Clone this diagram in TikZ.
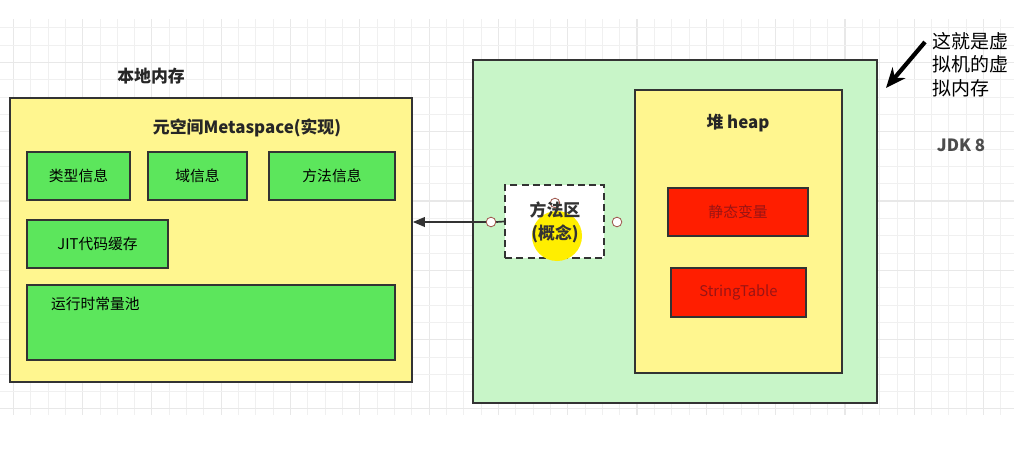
\documentclass[tikz,border=0pt]{standalone}
\usepackage{fontspec}
\setmainfont{Noto Sans CJK SC}
\usepackage{xcolor}
\usetikzlibrary{arrows.meta, calc}
\definecolor{gridminor}{HTML}{F0F0F0}
\definecolor{gridmajor}{HTML}{E8E8E8}
\definecolor{paleyellow}{HTML}{FFF68F}
\definecolor{boxgreen}{HTML}{5CE65C}
\definecolor{palegreen}{HTML}{C8F5C8}
\definecolor{boxred}{HTML}{FF1E00}
\definecolor{redtext}{HTML}{9A1414}
\definecolor{edge}{HTML}{333333}
\definecolor{pinmark}{HTML}{A05A50}
\definecolor{cursoryellow}{HTML}{FFEE00}

\begin{document}
\begin{tikzpicture}[>={Stealth[length=2mm]}, every node/.style={font=\fontsize{10.5}{12}\selectfont},
  frame/.style={draw=edge, line width=1.2pt, inner sep=0pt},
  greenbox/.style={frame, fill=boxgreen, minimum height=1.2cm},
  redbox/.style={frame, fill=boxred, text=redtext, minimum height=1.2cm},
  title/.style={font=\fontsize{12}{14}\selectfont\bfseries, text=black!85},
  pin/.style={circle, draw=pinmark, fill=white, line width=0.6pt, minimum size=0.24cm, inner sep=0pt}]
  \useasboundingbox (0,0) rectangle (25.35,-11.55);
  % grid
  \begin{scope}
    \clip (0,-0.5) rectangle (25.35,-10.35);
    \foreach \i in {0,...,59} {
      \pgfmathsetmacro{\gx}{(13.3+(\i-1)*17.33)*0.025}
      \pgfmathtruncatemacro{\maj}{mod(\i+3,4)==0}
      \ifnum\maj=1 \draw[gridmajor, line width=0.8pt] (\gx,0) -- (\gx,-11); \else \draw[gridminor, line width=0.6pt] (\gx,0) -- (\gx,-11); \fi
    }
    \foreach \j in {0,...,23} {
      \pgfmathsetmacro{\gy}{-(409-\j*17.33)*0.025}
      \pgfmathtruncatemacro{\maj}{mod(\j,4)==0}
      \ifnum\maj=1 \draw[gridmajor, line width=0.8pt] (0,\gy) -- (25.35,\gy); \else \draw[gridminor, line width=0.6pt] (0,\gy) -- (25.35,\gy); \fi
    }
  \end{scope}

  % native memory
  \node[title] (nativelabel) at (3.775,-1.9) {本地内存};
  \node[frame, fill=paleyellow, minimum width=10.05cm, minimum height=7.1cm] (native) at (5.275,-6.0) {};
  \node[title] (metalabel) at (6.175,-3.2) {元空间Metaspace(实现)};
  \node[greenbox, minimum width=2.575cm] (typeinfo) at (1.9625,-4.4) {类型信息};
  \node[greenbox, minimum width=2.475cm] (fieldinfo) at (4.9375,-4.4) {域信息};
  \node[greenbox, minimum width=3.15cm] (methodinfo) at (8.3,-4.4) {方法信息};
  \node[greenbox, minimum width=3.525cm] (jitcache) at (2.4375,-6.1) {JIT代码缓存};
  \node[greenbox, minimum width=9.2cm, minimum height=1.875cm] (constpool) at (5.275,-8.0625) {};
  \node[anchor=north west] (constlabel) at ($(constpool.north west)+(0.5,-0.2)$) {运行时常量池};

  % jvm memory
  \node[frame, fill=palegreen, minimum width=10.1cm, minimum height=8.575cm] (jvm) at (16.875,-5.7875) {};
  \node[frame, fill=paleyellow, minimum width=5.175cm, minimum height=7.075cm] (heap) at (18.4625,-5.7875) {};
  \node[title] (heaplabel) at (18.45,-3.075) {堆 heap};
  \node[redbox, minimum width=3.5cm] (staticvar) at (18.45,-5.3) {静态变量};
  \node[redbox, minimum width=3.375cm, minimum height=1.225cm] (stringtable) at (18.4625,-7.3125) {StringTable};

  % method area
  \node[draw=edge, dashed, dash pattern=on 5pt off 3pt, line width=1.2pt, fill=white, minimum width=2.475cm, minimum height=1.825cm] (area) at (13.8625,-5.5375) {};
  \node[pin] (pinbottom) at (13.875,-6.0) {};
  \fill[cursoryellow] (13.925,-5.9) circle (0.625);
  \node[pin] (pinleft) at (12.275,-5.55) {};
  \node[pin] (pinright) at (15.425,-5.55) {};
  \node[pin] (pintop) at (13.875,-5.075) {};
  \node[align=center, font=\fontsize{12}{16.5}\selectfont\bfseries, text=black!80] (arealabel) at (13.875,-5.55) {方法区\\(概念)};
  \draw[edge, line width=1.2pt, -{Triangle[length=3mm, width=2.4mm]}] (pinleft.west) -- (pinleft.west -| native.east);
  \draw[edge, line width=1.2pt] (area.west) -- (pinleft.east);

  % note
  \node[anchor=north west, align=left, inner sep=0pt, font=\fontsize{13.5}{16.7}\selectfont] (note) at (23.3,-0.8) {这就是虚\\拟机的虚\\拟内存};
  \coordinate (notetail) at (23.125,-1.05);
  \coordinate (notetip) at (22.15,-2.2);
  \draw[line width=3pt, -{Stealth[length=5mm, width=4.2mm]}] (notetail) -- (notetip);
  \node[font=\fontsize{12}{14}\selectfont\bfseries, text=black!70] (jdk) at (24.025,-3.625) {JDK 8};
\end{tikzpicture}
\end{document}
